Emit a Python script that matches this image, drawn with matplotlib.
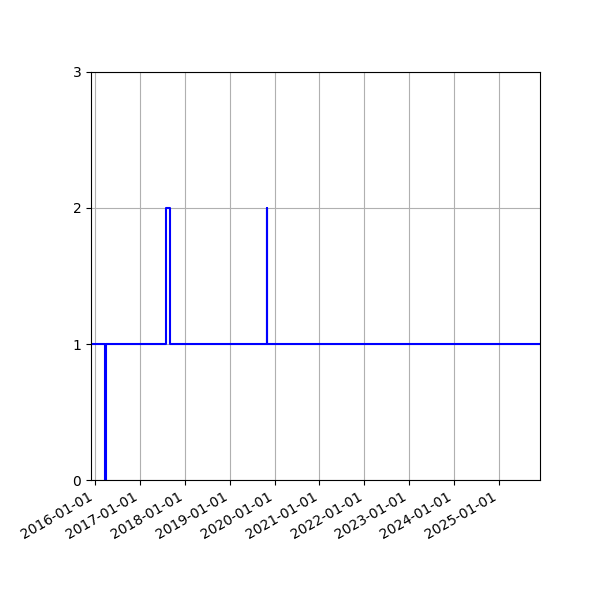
import matplotlib
matplotlib.use("Agg")
import matplotlib.pyplot as plt
import matplotlib.dates as mdates
import numpy as np
import datetime as dt

# step data (value changes at these dates)
dates = ["2015-11-01", "2016-03-26", "2016-03-30", "2017-08-05", "2017-09-02",
         "2019-10-30", "2019-11-01", "2026-12-31"]
values = [1, 0, 1, 2, 1, 2, 1, 1]
tick_labels = [f"{y}-01-01" for y in range(2016, 2026)]

x = [dt.datetime.strptime(d, "%Y-%m-%d") for d in dates]

fig = plt.figure(figsize=(6, 6), dpi=100)
ax = fig.add_axes([91 / 600, 0.2, (540 - 91) / 600, 0.68])
ax.plot(x, values, drawstyle="steps-post", color="blue", lw=1.5)
ax.set_xlim(dt.datetime(2015, 11, 30), dt.datetime(2025, 11, 30))
ax.set_ylim(0, 3)
ax.set_yticks([0, 1, 2, 3])
ticks = [dt.datetime.strptime(t, "%Y-%m-%d") for t in tick_labels]
ax.set_xticks(ticks)
ax.set_xticklabels(tick_labels)
ax.grid(True)
for lbl in ax.get_xticklabels():
    lbl.set_rotation(30)
    lbl.set_ha("right")
fig.savefig("out.png", dpi=100)
